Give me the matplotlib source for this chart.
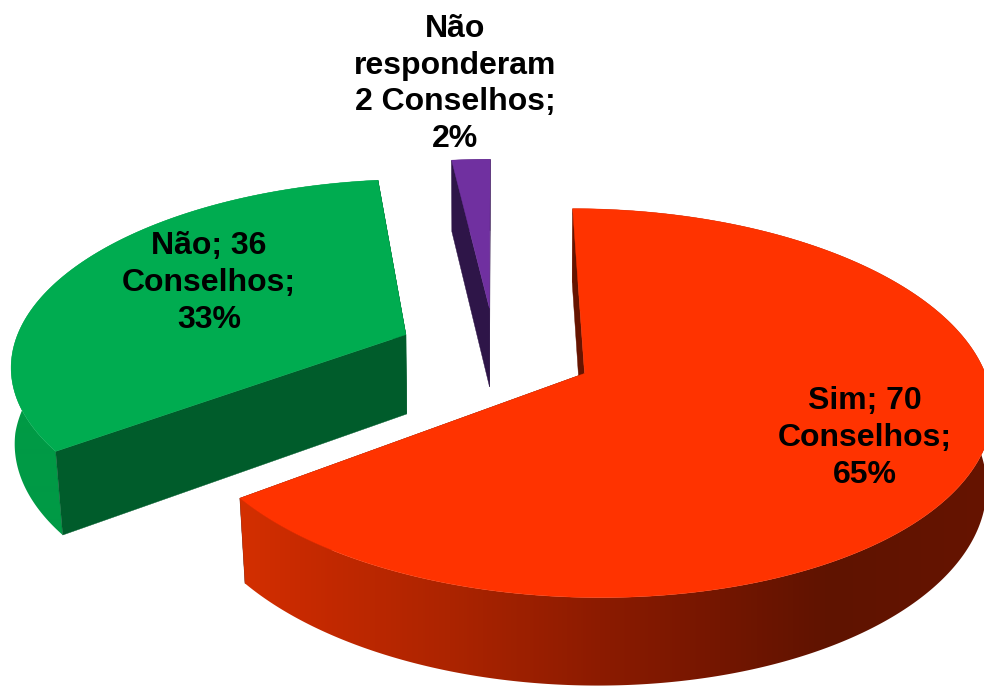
#! /usr/bin/python
import numpy as np
import matplotlib
matplotlib.use('Agg')
import matplotlib.pyplot as plt
from matplotlib.patches import Polygon

categories = ['Sim', 'Não', 'Não responderam']
counts = [70, 36, 2]
labels = ['Sim; 70\nConselhos;\n65%', 'Não; 36\nConselhos;\n33%',
          'Não\nresponderam\n2 Conselhos;\n2%']
label_pos = [(865, 438), (209, 283), (455, 84)]

top_colors = ['#ff3300', '#00ac50', '#7030a0']
side_colors = ['#661400', '#005c2b', '#2e1548']
# outer wall shading, goes with screen x
grad_x = [240, 300, 450, 600, 720, 830, 990]
grad_red = ['#d43000', '#c82a00', '#ac2400', '#8c1b00', '#741600', '#5f1300', '#661400']
grad_green = ['#009a45'] * 7
grad_purple = ['#2e1548'] * 7
grads = [grad_red, grad_green, grad_purple]

start_angle = 90.0
explode = 0.25
# projection of the pie plane to the picture
cx, cy = 495.0, 352.5
ax_a, ax_b = 394.0, 183.6
persp = 0.15


def project(p, q):
    w = 1 - persp * q
    return cx + ax_a * p / w, cy + ax_b * q / w


def project_low(p, q):
    x, y = project(p, q)
    shrink = 0.006 + 0.02 * np.maximum(q, 0)
    return x + (cx - x) * shrink, y + 80.2 + 7.0 * q


def gradient_row(grad):
    rgb = np.array([matplotlib.colors.to_rgb(c) for c in grad])
    xs = np.arange(984) + 0.5
    row = np.stack([np.interp(xs, grad_x, rgb[:, k]) for k in range(3)], axis=1)
    return row[np.newaxis, :, :]


fig = plt.figure(figsize=(9.84, 6.86), dpi=100)
ax = fig.add_axes([0, 0, 1, 1])

total = float(sum(counts))
a0 = start_angle
for i in range(len(counts)):
    a1 = a0 - counts[i] / total * 360.0
    mid = np.radians((a0 + a1) / 2)
    ox = explode * np.cos(mid)
    oy = -explode * np.sin(mid)
    ang = np.radians(np.linspace(a0, a1, int(abs(a1 - a0) * 2) + 2))
    ps = ox + np.cos(ang)
    qs = oy - np.sin(ang)

    tx, ty = project(ps, qs)
    bx, by = project_low(ps, qs)
    ax0, ay0 = project(ox, oy)
    bx0, by0 = project_low(ox, oy)

    # radial wall at the far end of the slice
    ax.add_patch(Polygon([(tx[-1], ty[-1]), (bx[-1], by[-1]), (bx0, by0), (ax0, ay0)],
                         fc=side_colors[i], ec=side_colors[i], lw=0.3, zorder=i * 10 + 1))
    # outer wall, gradient clipped to the wall shape
    wall = Polygon(list(zip(tx, ty)) + list(zip(bx[::-1], by[::-1])),
                   fc='none', ec='none', transform=ax.transData)
    ax.add_patch(wall)
    im = ax.imshow(gradient_row(grads[i]), extent=(0, 984, 686, 0), aspect='auto',
                   interpolation='bilinear', zorder=i * 10 + 2)
    im.set_clip_path(wall)
    # radial wall at the start of the slice
    ax.add_patch(Polygon([(tx[0], ty[0]), (bx[0], by[0]), (bx0, by0), (ax0, ay0)],
                         fc=side_colors[i], ec=side_colors[i], lw=0.3, zorder=i * 10 + 3))
    if i == 1:
        # green front wall sits over the outer wall
        ax.add_patch(Polygon([(tx[-1], ty[-1]), (bx[-1], by[-1]), (bx0, by0), (ax0, ay0)],
                             fc=side_colors[i], ec=side_colors[i], lw=0.3, zorder=i * 10 + 3))
    # top face
    top = list(zip(tx, ty)) + [(ax0, ay0)]
    ax.add_patch(Polygon(top, fc=top_colors[i], ec=top_colors[i], lw=0.3, zorder=i * 10 + 4))
    a0 = a1

ax.set_xlim(0, 984)
ax.set_ylim(686, 0)
ax.axis('off')

for i in range(len(labels)):
    ax.text(label_pos[i][0], label_pos[i][1], labels[i], ha='center', va='center',
            fontsize=23, fontweight='bold', family='Liberation Sans', color='black',
            linespacing=1.3, zorder=50)

plt.savefig('out.png', dpi=100)
